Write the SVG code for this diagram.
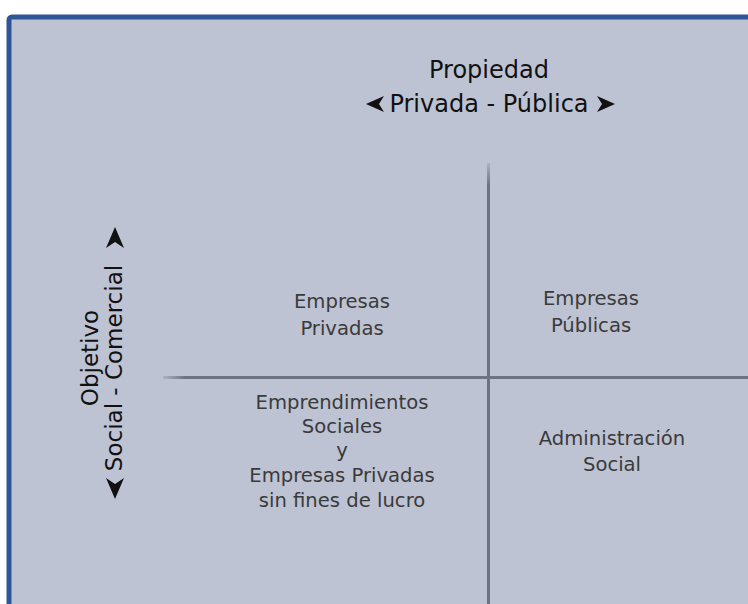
<svg xmlns="http://www.w3.org/2000/svg" width="748" height="604" viewBox="0 0 748 604">
<defs>
<style>
.t{font-family:"DejaVu Sans","Liberation Sans",sans-serif;text-anchor:middle}
.title{font-size:24px;fill:#111}
.side{font-size:23px;fill:#111}
.q{font-size:19.6px;fill:#3a3a3a}
.ax{stroke:#6f7381;stroke-width:3;fill:none}
.arr{fill:#111}
</style>
<linearGradient id="gv" x1="0" y1="0" x2="0" y2="1"><stop offset="0" stop-color="#6f7381" stop-opacity="0.2"/><stop offset="1" stop-color="#6f7381"/></linearGradient>
<linearGradient id="gh" x1="0" y1="0" x2="1" y2="0"><stop offset="0" stop-color="#6f7381" stop-opacity="0.2"/><stop offset="1" stop-color="#6f7381"/></linearGradient>
</defs>
<rect x="0" y="0" width="748" height="604" fill="#ffffff"/>
<rect x="9" y="17" width="760" height="620" rx="3" fill="#bdc3d3" stroke="#2f5597" stroke-width="5"/>
<g id="connectors">
<rect x="487" y="163" width="3" height="22" fill="url(#gv)"/>
<line class="ax" x1="488.5" y1="185" x2="488.5" y2="604"/>
<rect x="163" y="376" width="22" height="3" fill="url(#gh)"/>
<line class="ax" x1="185" y1="377.5" x2="748" y2="377.5"/>
</g>
<g id="title-propiedad">
<text class="t title" x="489" y="78">Propiedad</text>
<text class="t title" x="489" y="112">Privada - Pública</text>
<polygon class="arr" points="366,104 384,96 379,104 384,112"/>
<polygon class="arr" points="615,104 597,96 602,104 597,112"/>
</g>
<g id="title-objetivo">
<text class="t side" transform="translate(98,358) rotate(-90)">Objetivo</text>
<text class="t side" transform="translate(122,368) rotate(-90)">Social - Comercial</text>
<polygon class="arr" points="115,227 106,248 115,242 124,248"/>
<polygon class="arr" points="115,499 106,478 115,484 124,478"/>
</g>
<g id="q-privadas">
<text class="t q" x="342" y="308">Empresas</text>
<text class="t q" x="342" y="335">Privadas</text>
</g>
<g id="q-publicas">
<text class="t q" x="591" y="305">Empresas</text>
<text class="t q" x="591" y="332">Públicas</text>
</g>
<g id="q-sociales">
<text class="t q" x="342" y="409">Emprendimientos</text>
<text class="t q" x="342" y="433">Sociales</text>
<text class="t q" x="342" y="457">y</text>
<text class="t q" x="342" y="482">Empresas Privadas</text>
<text class="t q" x="342" y="507">sin fines de lucro</text>
</g>
<g id="q-administracion">
<text class="t q" x="612" y="445">Administración</text>
<text class="t q" x="612" y="471">Social</text>
</g>
</svg>
